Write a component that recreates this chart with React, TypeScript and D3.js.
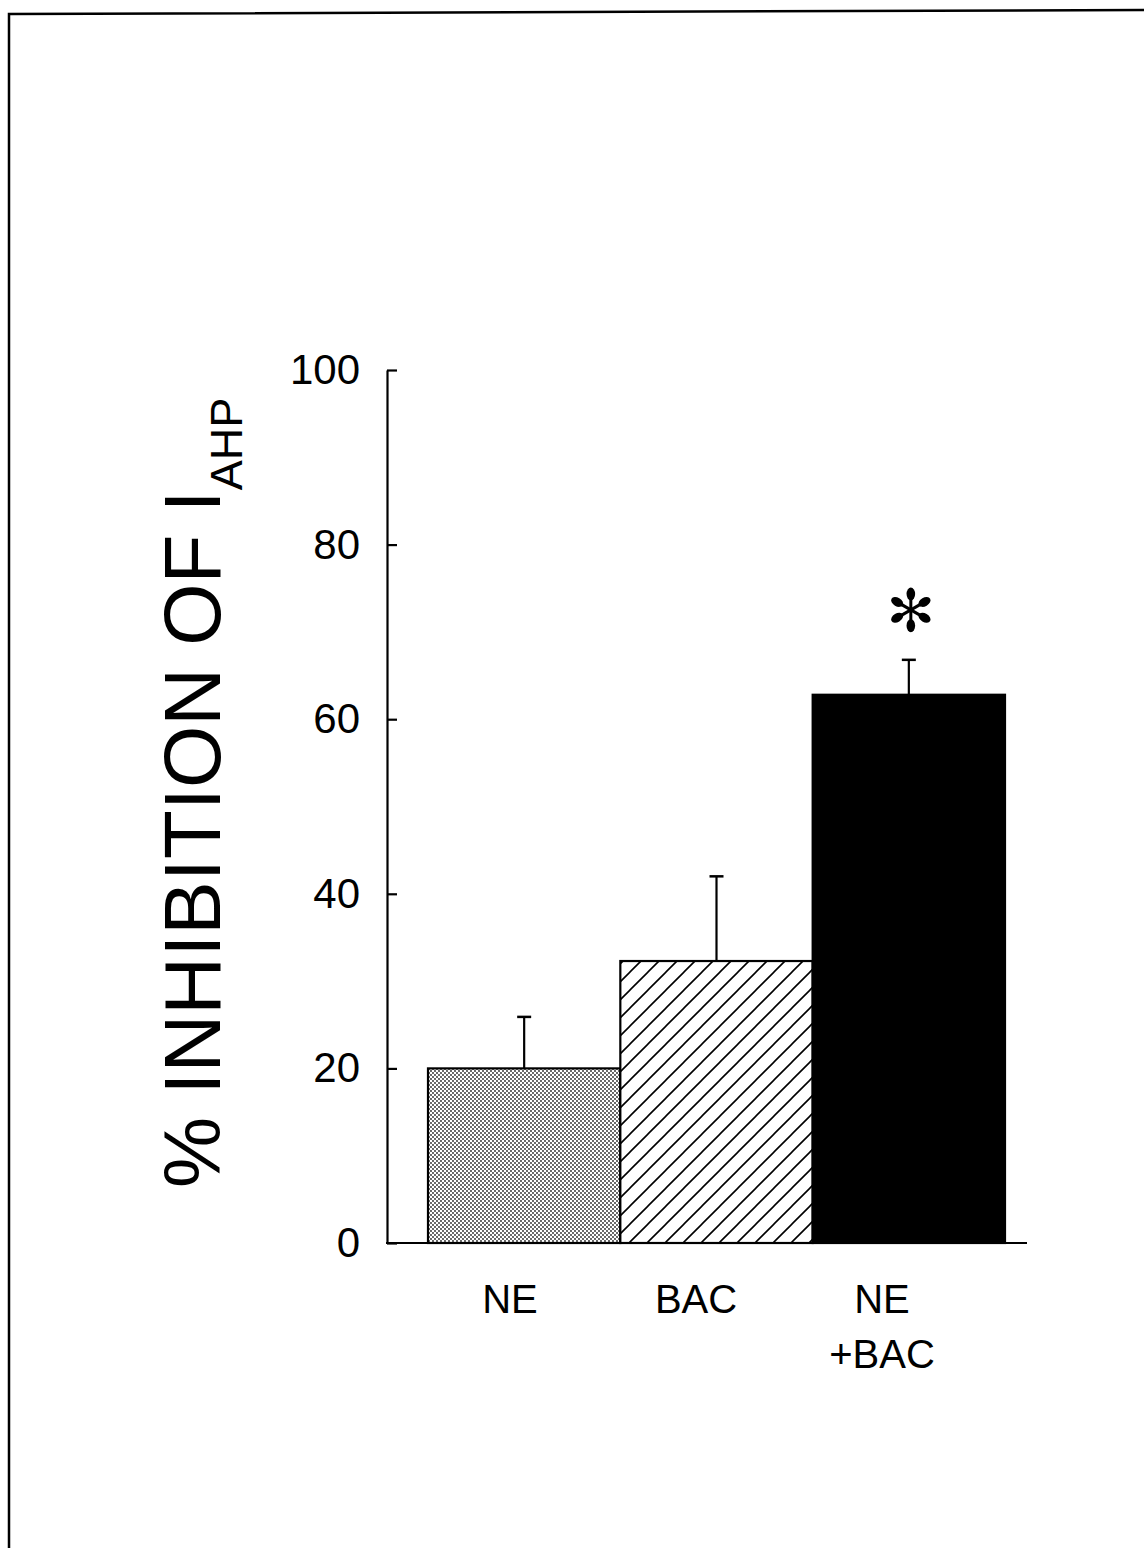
import React, { useEffect, useRef } from "react";
import * as d3 from "d3";

const categories = ["NE", "BAC", "NE+BAC"];
const categoryLabels = [["NE"], ["BAC"], ["NE", "+BAC"]];
const means = [20, 32.3, 62.8];
const errors = [5.9, 9.7, 4.0];
const significant = [false, false, true];
const yTicks = [0, 20, 40, 60, 80, 100];
const fills = ["url(#stipple)", "url(#hatch)", "#000"];

const W = 1144;
const H = 1548;

export default function App() {
  const ref = useRef<SVGSVGElement>(null);

  useEffect(() => {
    const svg = d3.select(ref.current);
    svg.selectAll("*").remove();

    const defs = svg.append("defs");
    const st = defs
      .append("pattern")
      .attr("id", "stipple")
      .attr("patternUnits", "userSpaceOnUse")
      .attr("width", 4)
      .attr("height", 4);
    st.append("rect").attr("width", 4).attr("height", 4).attr("fill", "#fff");
    st.append("circle").attr("cx", 1).attr("cy", 1).attr("r", 0.9).attr("fill", "#222");
    st.append("circle").attr("cx", 3).attr("cy", 3).attr("r", 0.9).attr("fill", "#222");

    const ht = defs
      .append("pattern")
      .attr("id", "hatch")
      .attr("patternUnits", "userSpaceOnUse")
      .attr("width", 18)
      .attr("height", 18);
    ht.append("rect").attr("width", 18).attr("height", 18).attr("fill", "#fff");
    ht.append("path")
      .attr("d", "M-4.5,4.5 L4.5,-4.5 M0,18 L18,0 M13.5,22.5 L22.5,13.5")
      .attr("stroke", "#000")
      .attr("stroke-width", 1.6);

    // frame
    svg.append("path")
      .attr("d", `M9,${H} L9,14 L${W},10`)
      .attr("fill", "none")
      .attr("stroke", "#000")
      .attr("stroke-width", 2.5);

    const y = d3.scaleLinear().domain([0, 100]).range([1243, 370]);
    const x = d3.scaleBand().domain(categories).range([428, 1005]).padding(0);
    const xLabel = d3.scaleBand().domain(categories).range([417, 975]).padding(0);
    const axisX0 = 387;
    const axisX1 = 1027;

    const font = "'Liberation Sans', Arial, Helvetica, sans-serif";

    // bars
    svg.append("g")
      .selectAll("rect")
      .data(categories)
      .join("rect")
      .attr("x", (d) => x(d)!)
      .attr("y", (_, i) => y(means[i]))
      .attr("width", x.bandwidth())
      .attr("height", (_, i) => y(0) - y(means[i]))
      .attr("fill", (_, i) => fills[i])
      .attr("stroke", "#000")
      .attr("stroke-width", 2.2);

    // error bars
    const eg = svg.append("g").attr("stroke", "#000").attr("stroke-width", 2.2);
    categories.forEach((c, i) => {
      const cx = x(c)! + x.bandwidth() / 2;
      eg.append("line")
        .attr("x1", cx).attr("x2", cx)
        .attr("y1", y(means[i])).attr("y2", y(means[i] + errors[i]));
      eg.append("line")
        .attr("x1", cx - 7).attr("x2", cx + 7)
        .attr("y1", y(means[i] + errors[i])).attr("y2", y(means[i] + errors[i]))
        .attr("stroke-width", 2.5);
    });

    // asterisks
    categories.forEach((c, i) => {
      if (!significant[i]) return;
      const cx = x(c)! + x.bandwidth() / 2 + 2;
      const cy = y(means[i] + errors[i]) - 50;
      const g = svg.append("g").attr("transform", `translate(${cx},${cy})`);
      [90, 30, -30].forEach((a) => {
        const r = (a * Math.PI) / 180;
        const dx = Math.cos(r) * 17;
        const dy = Math.sin(r) * 17;
        g.append("line")
          .attr("x1", -dx).attr("y1", -dy).attr("x2", dx).attr("y2", dy)
          .attr("stroke", "#000").attr("stroke-width", 3);
        [1, -1].forEach((s) => {
          const ex = s * dx * 0.93;
          const ey = s * dy * 0.93;
          g.append("ellipse")
            .attr("cx", ex).attr("cy", ey)
            .attr("rx", 6.5).attr("ry", 4.3)
            .attr("transform", `rotate(${a},${ex},${ey})`)
            .attr("fill", "#000");
        });
      });
    });

    // y axis
    const ya = d3.axisLeft(y).tickValues(yTicks).tickSizeInner(-10).tickSizeOuter(0).tickPadding(27);
    const yg = svg.append("g").attr("transform", `translate(${axisX0},0)`).call(ya);
    yg.select(".domain").attr("stroke-width", 2.2);
    yg.selectAll(".tick line").attr("stroke-width", 2.2);
    yg.selectAll(".tick text")
      .attr("font-family", font)
      .attr("font-size", 42)
      .attr("fill", "#000");

    // x axis line
    svg.append("line")
      .attr("x1", axisX0 - 1).attr("x2", axisX1)
      .attr("y1", y(0)).attr("y2", y(0))
      .attr("stroke", "#000").attr("stroke-width", 2.2);

    // category labels
    categories.forEach((c, i) => {
      const cx = xLabel(c)! + xLabel.bandwidth() / 2;
      categoryLabels[i].forEach((line, j) => {
        svg.append("text")
          .attr("x", cx)
          .attr("y", 1313 + j * 55)
          .attr("text-anchor", "middle")
          .attr("font-family", font)
          .attr("font-size", 40)
          .attr("fill", "#000")
          .text(line);
      });
    });

    // y title
    const t = svg.append("text")
      .attr("transform", `translate(220,1188) rotate(-90)`)
      .attr("font-family", font)
      .attr("font-size", 80)
      .attr("fill", "#000");
    t.append("tspan").text("% INHIBITION OF I");
    t.append("tspan").attr("font-size", 45).attr("dy", 22).text("AHP");
  }, []);

  return (
    <svg
      ref={ref}
      width={W}
      height={H}
      style={{ position: "absolute", left: 0, top: 0, background: "#fff" }}
    />
  );
}
